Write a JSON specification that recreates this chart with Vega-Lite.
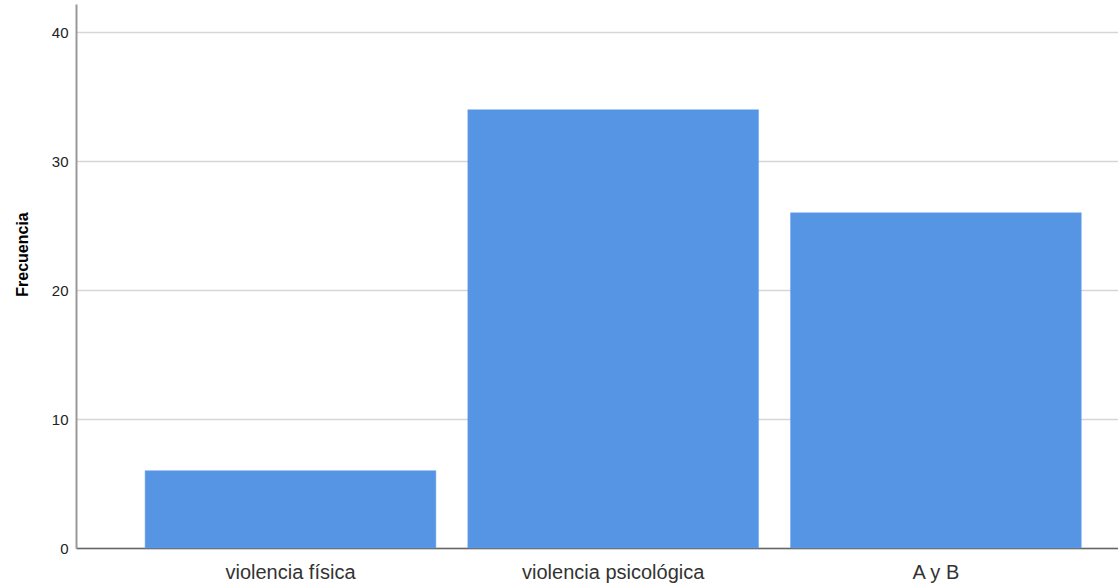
{
  "$schema": "https://vega.github.io/schema/vega-lite/v6.json",
  "width": 1042,
  "height": 544,
  "autosize": {"type": "none"},
  "padding": {"left": 76, "top": 4, "right": 0, "bottom": 36},
  "background": "white",
  "config": {
    "view": {"stroke": null},
    "font": "Liberation Sans"
  },
  "data": {
    "values": [
      {"categoria": "violencia física", "frecuencia": 6},
      {"categoria": "violencia psicológica", "frecuencia": 34},
      {"categoria": "A y B", "frecuencia": 26}
    ]
  },
  "mark": {"type": "bar", "color": "#5595e3", "stroke": "#6aa3ea", "strokeWidth": 0.5},
  "encoding": {
    "x": {
      "field": "categoria",
      "type": "nominal",
      "sort": null,
      "scale": {"paddingInner": 0.099, "paddingOuter": 0.164, "align": 0.653},
      "axis": {
        "title": null,
        "labelAngle": 0,
        "labelFontSize": 20,
        "labelLimit": 0,
        "labelColor": "#333333",
        "labelPadding": 14,
        "ticks": false,
        "grid": false,
        "domainColor": "#666666",
        "domainWidth": 1.5
      }
    },
    "y": {
      "field": "frecuencia",
      "type": "quantitative",
      "scale": {"domain": [0, 42.2], "nice": false, "zero": true},
      "axis": {
        "title": "Frecuencia",
        "titleFontSize": 16,
        "titleFontWeight": "bold",
        "titleColor": "#000000",
        "titlePadding": 21,
        "titleY": 250,
        "values": [0, 10, 20, 30, 40],
        "labelFontSize": 15,
        "labelColor": "#222222",
        "labelPadding": 8,
        "ticks": false,
        "grid": true,
        "gridColor": "#d6d6d6",
        "gridWidth": 1.5,
        "domainColor": "#999999",
        "domainWidth": 2
      }
    }
  }
}
